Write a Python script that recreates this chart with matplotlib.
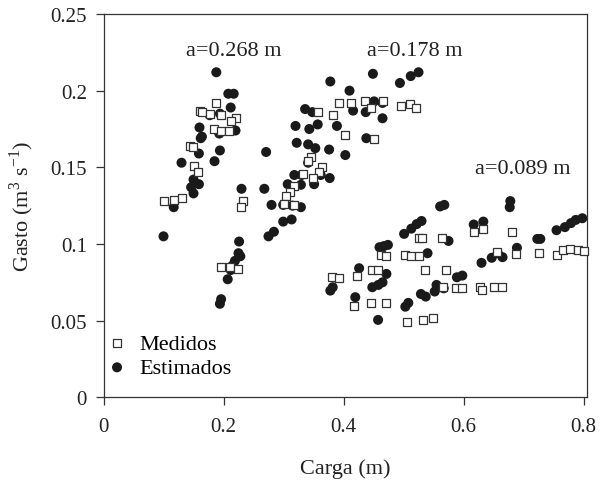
import matplotlib
matplotlib.use("Agg")
import matplotlib.pyplot as plt

plt.rcParams['font.family'] = ['Liberation Serif', 'DejaVu Serif']
plt.rcParams['mathtext.fontset'] = 'custom'
plt.rcParams['mathtext.rm'] = 'Liberation Serif'
plt.rcParams['font.size'] = 15

# Medidos (open squares)
med_x = [0.188, 0.160, 0.164, 0.177, 0.195, 0.220, 0.212, 0.184, 0.195, 0.209,
         0.144, 0.149, 0.150, 0.158, 0.100, 0.118, 0.131, 0.232, 0.229, 0.196,
         0.210, 0.224,
         0.392, 0.413, 0.435, 0.445, 0.466, 0.495, 0.511, 0.520, 0.358, 0.382,
         0.403, 0.451, 0.346, 0.340, 0.364, 0.359, 0.332, 0.349, 0.317, 0.310,
         0.304, 0.301, 0.317,
         0.525, 0.531, 0.564, 0.617, 0.632, 0.680, 0.463, 0.4715, 0.503, 0.513,
         0.526, 0.656, 0.688, 0.726, 0.755, 0.766, 0.777, 0.791, 0.800, 0.381,
         0.392, 0.423, 0.448, 0.458, 0.536, 0.570, 0.418, 0.445, 0.470, 0.566,
         0.587, 0.597, 0.628, 0.631, 0.650, 0.664, 0.505, 0.532, 0.549]
med_y = [0.192, 0.187, 0.186, 0.185, 0.184, 0.182, 0.180, 0.175, 0.174, 0.174,
         0.164, 0.163, 0.151, 0.147, 0.128, 0.129, 0.130, 0.128, 0.124, 0.085,
         0.085, 0.084,
         0.192, 0.192, 0.193, 0.189, 0.193, 0.190, 0.191, 0.189, 0.186, 0.184,
         0.171, 0.1686, 0.157, 0.154, 0.1505, 0.147, 0.1458, 0.143, 0.138, 0.134,
         0.131, 0.126, 0.1255,
         0.104, 0.104, 0.104, 0.108, 0.110, 0.108, 0.093, 0.092, 0.0929, 0.092,
         0.092, 0.0946, 0.0935, 0.094, 0.0929, 0.0961, 0.0968, 0.0961, 0.0955, 0.0783,
         0.0779, 0.0794, 0.0833, 0.0833, 0.0831, 0.0831, 0.0598, 0.0615, 0.0615, 0.0718,
         0.0713, 0.0713, 0.072, 0.070, 0.072, 0.072, 0.0493, 0.0505, 0.0516]

# Estimados (filled circles)
est_x = [0.188, 0.208, 0.217, 0.212, 0.177, 0.194, 0.160, 0.220, 0.193, 0.164,
         0.162, 0.159, 0.194, 0.185, 0.130, 0.150, 0.159, 0.146, 0.150, 0.230,
         0.117, 0.100, 0.226, 0.225, 0.228, 0.219, 0.215, 0.212, 0.207, 0.196,
         0.194,
         0.449, 0.525, 0.512, 0.494, 0.378, 0.410, 0.451, 0.465, 0.336, 0.348,
         0.416, 0.437, 0.465, 0.389, 0.320, 0.357, 0.343, 0.438, 0.322, 0.341,
         0.353, 0.376, 0.271, 0.403, 0.341, 0.318, 0.330, 0.362, 0.377, 0.307,
         0.329, 0.351, 0.268, 0.280, 0.2995, 0.315, 0.329, 0.2995, 0.3135, 0.284,
         0.275,
         0.561, 0.568, 0.678, 0.677, 0.530, 0.522, 0.513, 0.501, 0.617, 0.633,
         0.798, 0.787, 0.779, 0.769, 0.755, 0.728, 0.723, 0.575, 0.474, 0.467,
         0.460, 0.540, 0.689, 0.657, 0.647, 0.665, 0.630, 0.426, 0.4715, 0.465,
         0.458, 0.448, 0.382, 0.378, 0.598, 0.589, 0.4196, 0.555, 0.552, 0.567,
         0.529, 0.537, 0.508, 0.503, 0.4576]
est_y = [0.212, 0.198, 0.198, 0.189, 0.184, 0.185, 0.176, 0.174, 0.172, 0.170,
         0.169, 0.159, 0.161, 0.154, 0.153, 0.142, 0.139, 0.137, 0.133, 0.136,
         0.124, 0.105, 0.1016, 0.094, 0.092, 0.089, 0.086, 0.083, 0.077, 0.064,
         0.061,
         0.211, 0.212, 0.2095, 0.205, 0.206, 0.200, 0.193, 0.192, 0.188, 0.186,
         0.187, 0.186, 0.182, 0.177, 0.177, 0.178, 0.175, 0.169, 0.166, 0.165,
         0.1625, 0.1616, 0.160, 0.158, 0.153, 0.145, 0.145, 0.145, 0.143, 0.139,
         0.1386, 0.139, 0.136, 0.1255, 0.1255, 0.125, 0.124, 0.1146, 0.116, 0.108,
         0.105,
         0.1245, 0.1255, 0.128, 0.124, 0.115, 0.113, 0.110, 0.1066, 0.1127, 0.1146,
         0.1168, 0.1157, 0.1136, 0.111, 0.109, 0.1033, 0.1033, 0.102, 0.0994, 0.0986,
         0.0979, 0.094, 0.0975, 0.094, 0.091, 0.0914, 0.0877, 0.0842, 0.0805, 0.075,
         0.0733, 0.0718, 0.0718, 0.0696, 0.0794, 0.0783, 0.0653, 0.0733, 0.069, 0.0711,
         0.0674, 0.0657, 0.0616, 0.0591, 0.0505]

labels = ["a=0.268 m", "a=0.178 m", "a=0.089 m"]
label_x = [0.217, 0.519, 0.698]
label_y = [0.226, 0.226, 0.149]

fig = plt.figure(figsize=(6.15, 4.81), dpi=100)
ax = fig.add_axes([0.1683, 0.1719, 0.7854, 0.7969])

ax.scatter(med_x, med_y, marker='s', s=34, facecolors='white', edgecolors='#333333',
           linewidths=0.9, label='Medidos', zorder=3, clip_on=False)
ax.scatter(est_x, est_y, marker='o', s=52, color='#1a1a1a', edgecolors='none',
           label='Estimados', zorder=2)

for t, x, y in zip(labels, label_x, label_y):
    ax.text(x, y, t, ha='center', va='center', color='#222222', fontsize=16)

ax.set_xlim(0, 0.805)
ax.set_ylim(0, 0.25)
ax.set_xticks([0, 0.2, 0.4, 0.6, 0.8])
ax.set_xticklabels(['0', '0.2', '0.4', '0.6', '0.8'])
ax.set_yticks([0, 0.05, 0.1, 0.15, 0.2, 0.25])
ax.set_yticklabels(['0', '0.05', '0.1', '0.15', '0.2', '0.25'])
ax.tick_params(direction='out', length=6, width=0.9, colors='#333333',
               labelcolor='#222222')
ax.tick_params(axis='x', pad=8)
ax.tick_params(axis='y', pad=6)
for sp in ax.spines.values():
    sp.set_linewidth(0.9)
    sp.set_color('#333333')

ax.set_xlabel('Carga (m)', labelpad=16, color='#222222', fontsize=16)
ax.set_ylabel(r'Gasto (m$^3$ s$^{-1}$)', labelpad=10, color='#222222', fontsize=16)

ax.legend(loc='lower left', bbox_to_anchor=(0.005, 0.05), frameon=False,
          handlelength=1.0, handletextpad=0.5, borderpad=0, borderaxespad=0,
          labelspacing=0.15, fontsize=16)

fig.savefig('out.png', dpi=100)
